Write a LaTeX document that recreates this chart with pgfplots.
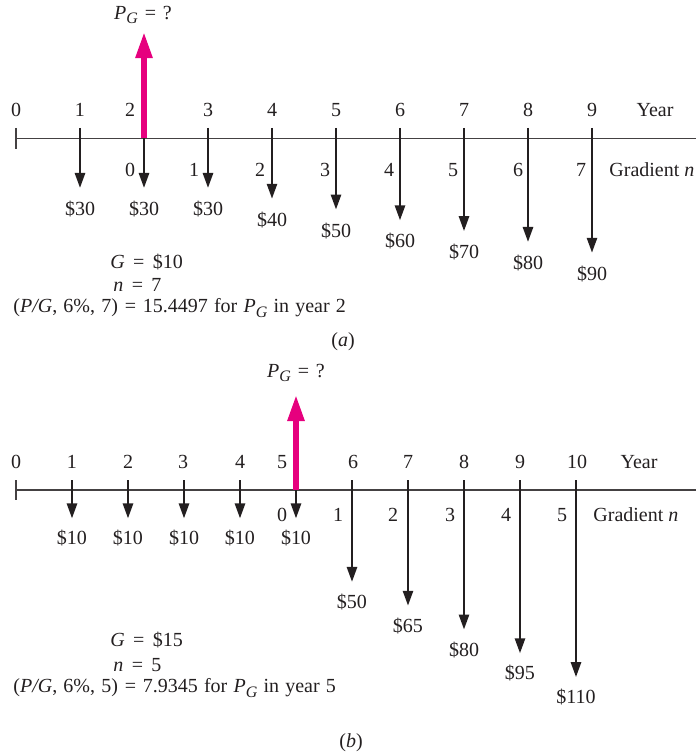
\documentclass[border=0pt]{standalone}
\usepackage{pgfplots}
\pgfplotsset{compat=1.18}
\usepackage{pgfplotstable}
\usetikzlibrary{arrows.meta}
\usepackage{fontspec}
\setmainfont{Liberation Serif}
\definecolor{pinkc}{RGB}{230,0,126}
\definecolor{ink}{RGB}{35,31,32}

% panel (a): end-of-year cash flows
\pgfplotstableread{
year amt
1 30
2 30
3 30
4 40
5 50
6 60
7 70
8 80
9 90
}\cfa
% panel (b)
\pgfplotstableread{
year amt
1 10
2 10
3 10
4 10
5 10
6 50
7 65
8 80
9 95
10 110
}\cfb

\newcommand{\PG}{\textit{P}\raisebox{-0.45ex}{\footnotesize\textit{G}}}
\newcommand{\eq}{\hspace{0.42em}=\hspace{0.42em}}
\newcommand{\eqs}{\hspace{0.34em}=\hspace{0.34em}}

\begin{document}
\fontsize{10}{12}\selectfont
\begin{tikzpicture}[font=\fontsize{10}{12}\selectfont]
% ---------------- panel (a)
\begin{axis}[at={(0pt,0pt)}, anchor=north west, scale only axis,
  width=348pt, height=189pt,
  xmin=-0.25, xmax=10.625, ymin=-205.93, ymax=144.07,
  hide axis, clip=false]
\addplot[ink!85, line width=0.55pt] coordinates {(0,16) (10.625,16)};
\addplot[ink!85, line width=0.55pt] coordinates {(0,25.6) (0,6.1)};
\addplot[ink, line width=1.3pt, -{Triangle[length=7.5pt,width=5pt]},
  quiver={u=0, v={-\thisrow{amt}-25.6}}]
  table[x=year, y expr=25.6] {\cfa};
\addplot[draw=none, nodes near coords={\$\pgfplotspointmeta},
  point meta=explicit symbolic,
  nodes near coords style={anchor=center, yshift=-10.5pt, text=ink}]
  table[x=year, y expr=-\thisrow{amt}, meta=amt] {\cfa};
\addplot[pinkc, line width=2.8pt, -{Triangle[length=13pt,width=8pt]}]
  coordinates {(2,16) (2,114.4)};
\end{axis}
% ---------------- panel (b)
\begin{axis}[at={(0pt,-189pt)}, anchor=north west, scale only axis,
  width=348pt, height=189pt,
  xmin=-0.2857, xmax=12.1429, ymin=-159.67, ymax=78.51,
  hide axis, clip=false]
\addplot[ink!85, line width=0.55pt] coordinates {(0,7.94) (12.1429,7.94)};
\addplot[ink!85, line width=0.55pt] coordinates {(0,14.24) (0,1.64)};
\addplot[ink, line width=1.3pt, -{Triangle[length=7.5pt,width=5pt]},
  quiver={u=0, v={-\thisrow{amt}-14.24}}]
  table[x=year, y expr=14.24] {\cfb};
\addplot[draw=none, nodes near coords={\$\pgfplotspointmeta},
  point meta=explicit symbolic,
  nodes near coords style={anchor=center, yshift=-10pt, text=ink}]
  table[x=year, y expr=-\thisrow{amt}, meta=amt] {\cfb};
\addplot[pinkc, line width=2.8pt, -{Triangle[length=13pt,width=8pt]}]
  coordinates {(5,7.94) (5,67.8)};
\end{axis}
% ---------------- text (pixel coordinates)
\begin{scope}[x=0.5pt, y=-0.5pt, every node/.style={text=ink, inner sep=0pt}]
% (a)
\node at (143,15) {\PG\eqs ?};
\foreach \t/\xx in {0/16,1/80,2/130,3/208,4/272,5/336,6/400,7/464,8/528,9/592}
  \node at (\xx,110) {\t};
\node at (655,110) {Year};
\foreach \t/\xx in {0/130,1/194,2/260,3/325,4/389,5/453,6/518,7/581}
  \node at (\xx,170) {\t};
\node[anchor=west] at (609,170) {Gradient \textit{n}};
\node[anchor=west] at (110,262) {\textit{G}\eq\$10};
\node[anchor=west] at (113,285) {\textit{n}\eq7};
\node[anchor=west] at (13,308) {\spaceskip=0.31em (\textit{P/G}, 6\%, 7)\eqs15.4497 for \PG\ in year 2};
\node at (343,342) {(\textit{a})};
% (b)
\node at (296,373) {\PG\eqs ?};
\foreach \t/\xx in {0/16,1/72,2/128,3/183,4/240,5/282,6/353,7/408,8/464,9/520,10/577}
  \node at (\xx,462) {\t};
\node at (639,462) {Year};
\foreach \t/\xx in {0/282,1/338,2/393,3/450,4/506,5/562}
  \node at (\xx,515) {\t};
\node[anchor=west] at (593,515) {Gradient \textit{n}};
\node[anchor=west] at (110,640) {\textit{G}\eq\$15};
\node[anchor=west] at (113,665) {\textit{n}\eq5};
\node[anchor=west] at (13,688) {\spaceskip=0.31em (\textit{P/G}, 6\%, 5)\eqs7.9345 for \PG\ in year 5};
\node at (351,743) {(\textit{b})};
\end{scope}
\pgfresetboundingbox
\path[use as bounding box] (0pt,0pt) rectangle (348pt,-378pt);
\end{tikzpicture}
\end{document}
